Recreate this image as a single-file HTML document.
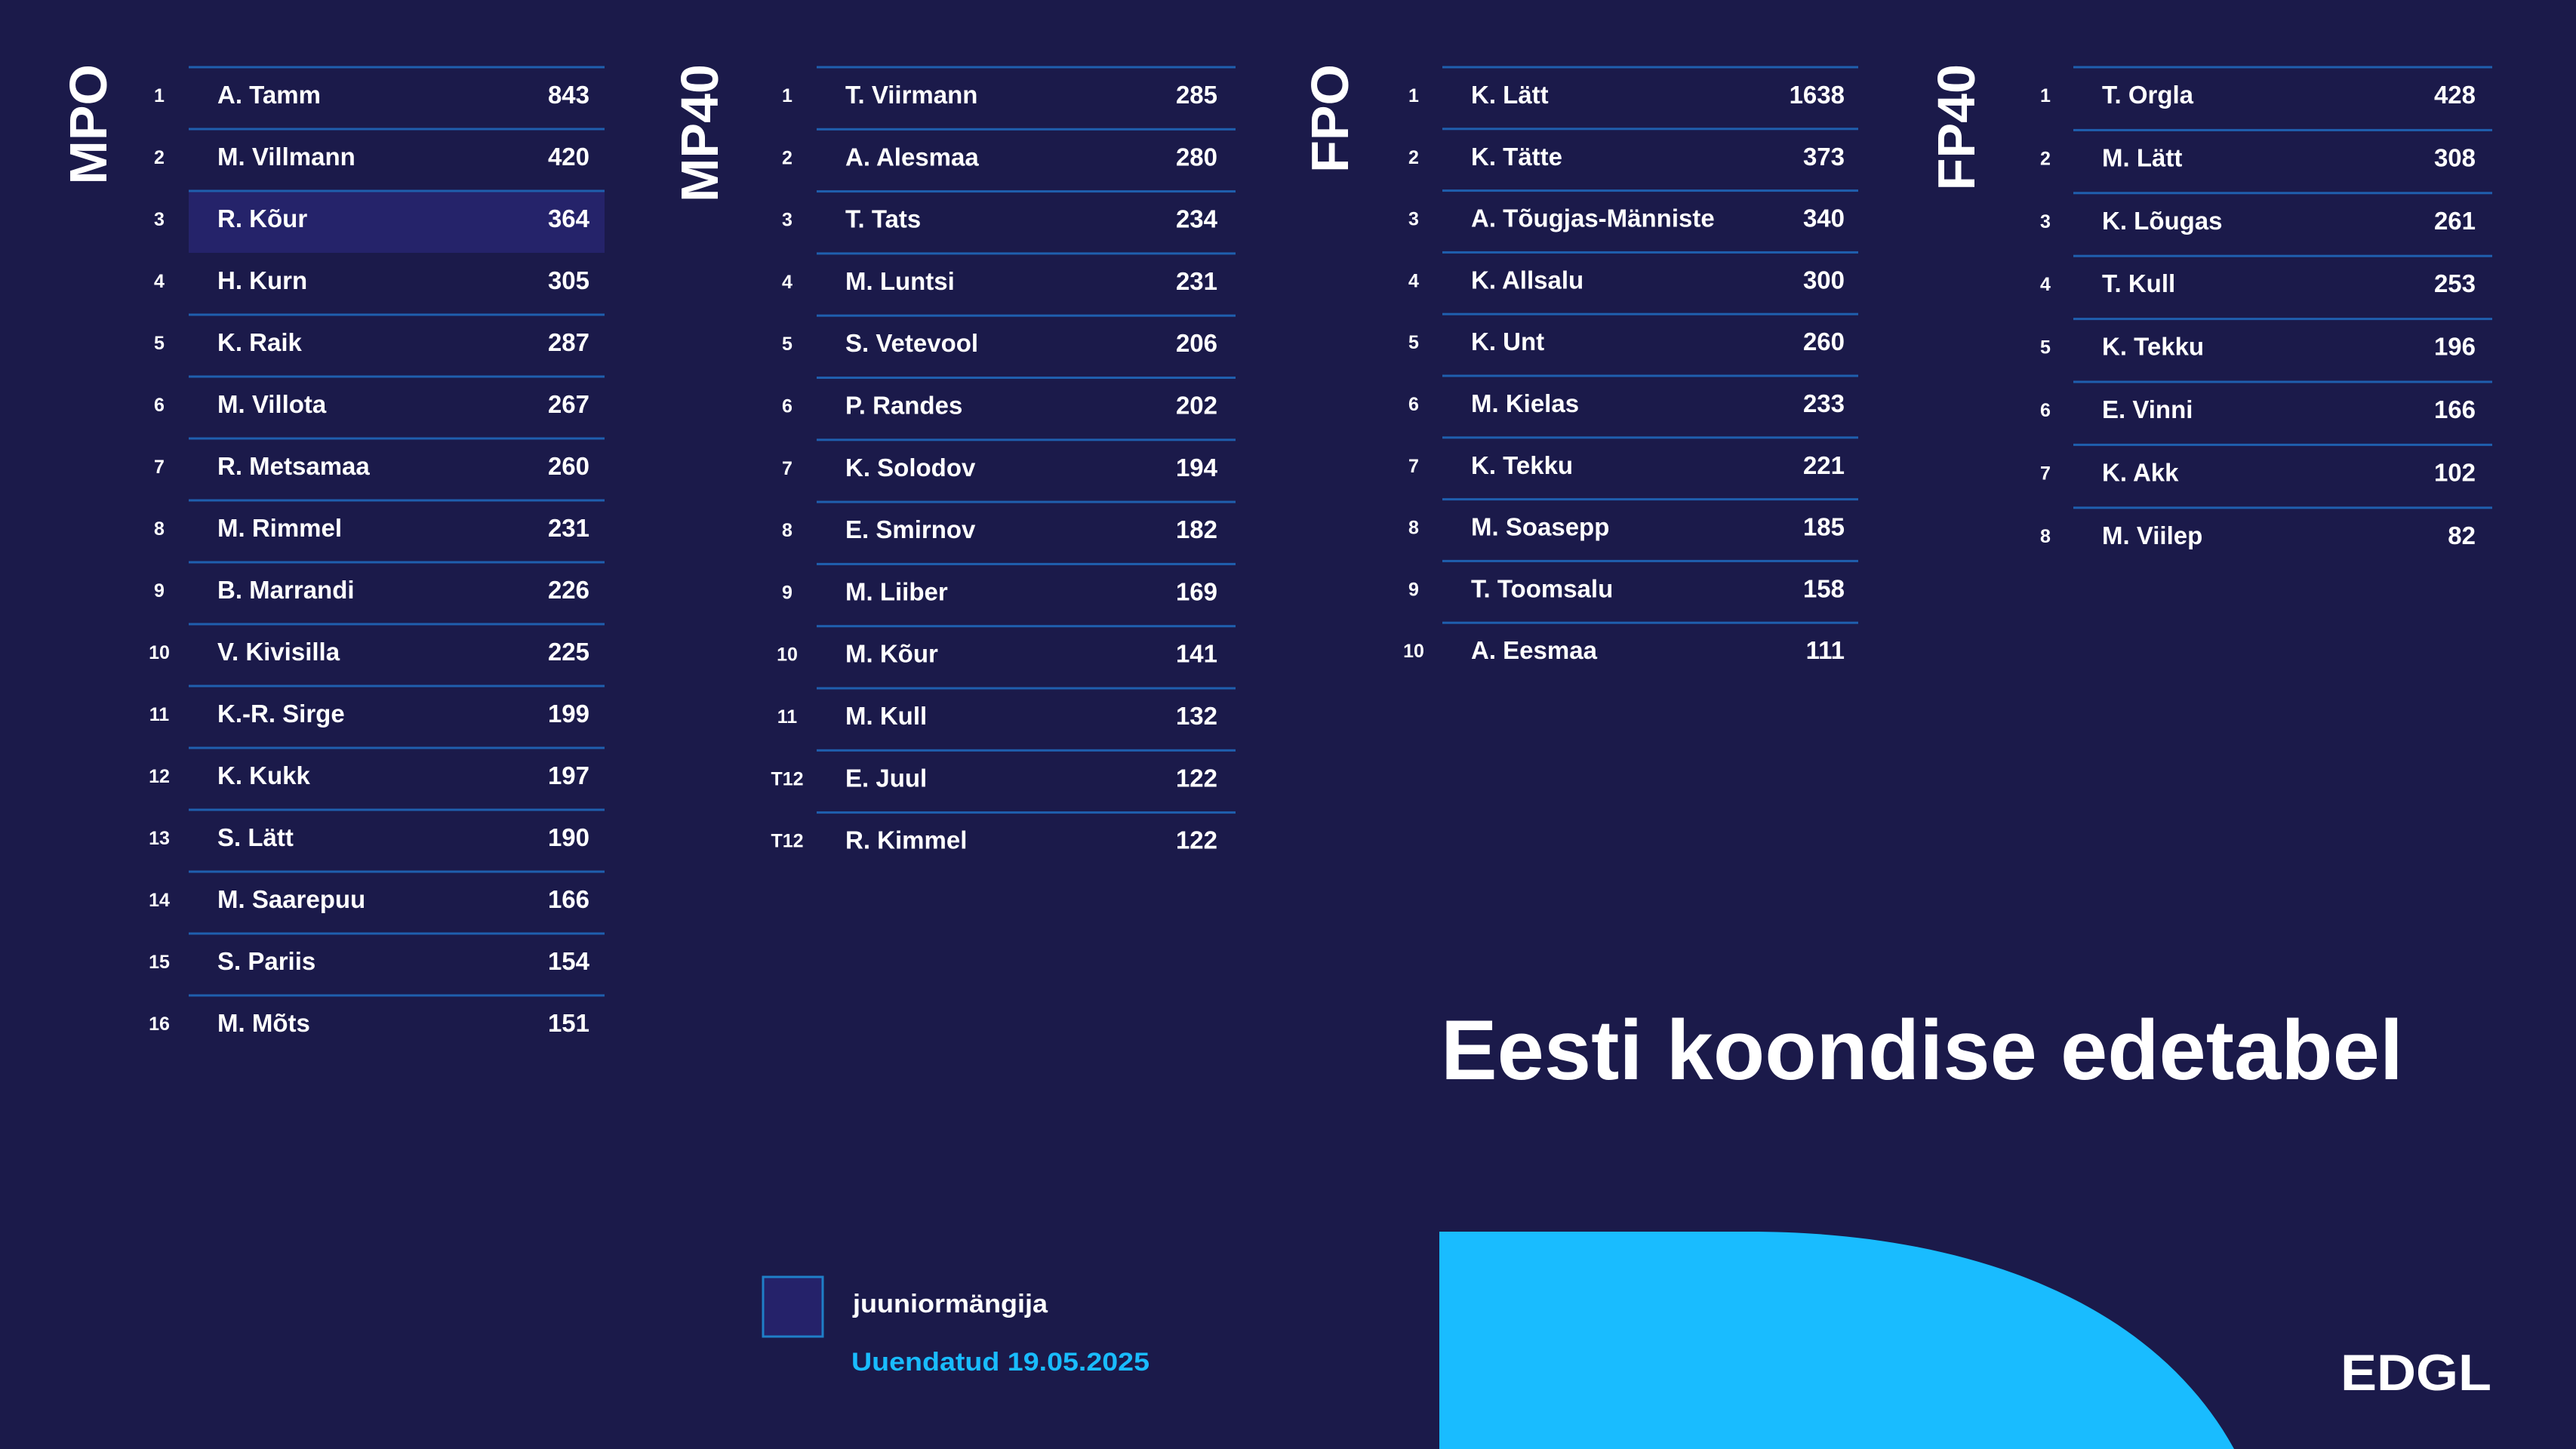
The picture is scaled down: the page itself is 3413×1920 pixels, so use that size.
<!DOCTYPE html>
<html><head><meta charset="utf-8"><style>
html,body{margin:0;padding:0;background:#1b1a4a;}
svg{display:block;font-family:"Liberation Sans",sans-serif;}
</style></head><body>
<svg id="s" width="3413" height="1920" viewBox="0 0 3413 1920">
<rect width="3413" height="1920" fill="#1b1a4a"/>
<path d="M1907,1632 H2318 C2600,1632 2850,1720 2960,1920 H1907 Z" fill="#19bcff"/>
<text x="1909" y="1430" font-size="112" font-weight="bold" fill="#fff" textLength="1275" lengthAdjust="spacingAndGlyphs">Eesti koondise edetabel</text>
<text x="3101" y="1842" font-size="68" font-weight="bold" fill="#fff" textLength="200" lengthAdjust="spacingAndGlyphs">EDGL</text>
<rect x="1011" y="1692" width="79" height="79" fill="#25226a" stroke="#1f7fc8" stroke-width="3"/>
<text x="1130" y="1739" font-size="34" font-weight="bold" fill="#fff" textLength="258" lengthAdjust="spacingAndGlyphs">juuniormängija</text>
<text x="1128" y="1816" font-size="34" font-weight="bold" fill="#19bcff" textLength="395" lengthAdjust="spacingAndGlyphs">Uuendatud 19.05.2025</text>
<g id="tables"></g>
</svg>
<script>
const mpoNames=["A. Tamm","M. Villmann","R. Kõur","H. Kurn","K. Raik","M. Villota","R. Metsamaa","M. Rimmel","B. Marrandi","V. Kivisilla","K.-R. Sirge","K. Kukk","S. Lätt","M. Saarepuu","S. Pariis","M. Mõts"];
const mpoValues=[843,420,364,305,287,267,260,231,226,225,199,197,190,166,154,151];
const mpoRanks=["1","2","3","4","5","6","7","8","9","10","11","12","13","14","15","16"];
const mp40Names=["T. Viirmann","A. Alesmaa","T. Tats","M. Luntsi","S. Vetevool","P. Randes","K. Solodov","E. Smirnov","M. Liiber","M. Kõur","M. Kull","E. Juul","R. Kimmel"];
const mp40Values=[285,280,234,231,206,202,194,182,169,141,132,122,122];
const mp40Ranks=["1","2","3","4","5","6","7","8","9","10","11","T12","T12"];
const fpoNames=["K. Lätt","K. Tätte","A. Tõugjas-Männiste","K. Allsalu","K. Unt","M. Kielas","K. Tekku","M. Soasepp","T. Toomsalu","A. Eesmaa"];
const fpoValues=[1638,373,340,300,260,233,221,185,158,111];
const fpoRanks=["1","2","3","4","5","6","7","8","9","10"];
const fp40Names=["T. Orgla","M. Lätt","K. Lõugas","T. Kull","K. Tekku","E. Vinni","K. Akk","M. Viilep"];
const fp40Values=[428,308,261,253,196,166,102,82];
const fp40Ranks=["1","2","3","4","5","6","7","8"];
const juniors={mpo:[2]};

const NS="http://www.w3.org/2000/svg";
const g=document.getElementById('tables');
function mk(tag,attrs,text){const e=document.createElementNS(NS,tag);for(const k in attrs)e.setAttribute(k,attrs[k]);if(text!==undefined)e.textContent=text;g.appendChild(e);return e;}

function table(key,title,names,values,ranks,titleX,rankX,lineX1,lineX2,valX,spacing){
  const t=mk('text',{x:titleX,y:85,'font-size':70,'font-weight':'bold',fill:'#fff','text-anchor':'end',transform:`rotate(-90 ${titleX} 85)`},title);
  
  
  const first=126;
  names.forEach((n,i)=>{
    const cy=first+i*spacing;
    const top=cy-37;
    if((juniors[key]||[]).includes(i)){
      const h=mk('rect',{x:lineX1,y:top,width:lineX2-lineX1,height:82,fill:'#25236a'});
      
      
    }
    const prevJ=(juniors[key]||[]).includes(i-1);
    if(!prevJ){
      const l=mk('rect',{x:lineX1,y:top-1.5,width:lineX2-lineX1,height:3,fill:'#1f5fae'});
      
      
    }
    const r=mk('text',{x:rankX,y:cy+9,'font-size':25,'font-weight':'bold',fill:'#fff','text-anchor':'middle'},ranks[i]);
    
    
    const nm=mk('text',{x:lineX1+38,y:cy+11,'font-size':33,'font-weight':'bold',fill:'#fff'},n);
    
    
    const v=mk('text',{x:valX,y:cy+11,'font-size':33,'font-weight':'bold',fill:'#fff','text-anchor':'end'},String(values[i]));
    
    
  });
}
table('mpo','MPO',mpoNames,mpoValues,mpoRanks,141,211,250,801,781,82.0);
table('mp40','MP40',mp40Names,mp40Values,mp40Ranks,951,1043,1082,1637,1613,82.3);
table('fpo','FPO',fpoNames,fpoValues,fpoRanks,1786,1873,1911,2462,2444,81.8);
table('fp40','FP40',fp40Names,fp40Values,fp40Ranks,2616,2710,2747,3302,3280,83.4);
</script>
</body></html>
